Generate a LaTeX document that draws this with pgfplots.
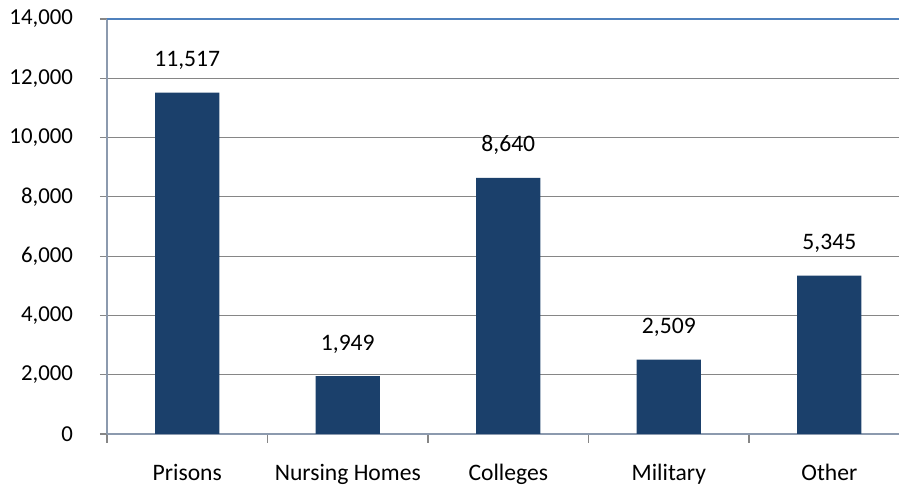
\documentclass[border=0pt]{standalone}
\usepackage{fontspec}
\setmainfont{Carlito}
\usepackage{pgfplots}
\pgfplotsset{compat=1.18}

\definecolor{barblue}{RGB}{27,64,107}
\definecolor{axisgray}{RGB}{140,154,174}
\definecolor{gridgray}{RGB}{134,134,134}
\definecolor{topblue}{RGB}{79,129,189}

\begin{document}
\begin{tikzpicture}
	\begin{axis}[
		at={(0,0)}, anchor=south west,
		scale only axis,
		width=396pt, height=207.5pt,
		ybar, bar width=0.4,
		xmin=-0.5, xmax=4.434,
		ymin=0, ymax=14000,
		ytick={0,2000,...,14000},
		scaled y ticks=false,
		xtick={0,...,4},
		xticklabels={Prisons,Nursing Homes,Colleges,Military,Other},
		minor xtick={-0.5,0.5,1.5,2.5,3.5},
		axis lines*=left,
		axis line style={draw=axisgray, line width=0.9pt},
		ymajorgrids,
		major grid style={draw=gridgray, line width=0.5pt},
		tick align=outside,
		major tick length=3.5pt,
		minor tick length=4.5pt,
		major x tick style={draw=none},
		minor x tick style={draw=gridgray, line width=0.8pt},
		major y tick style={draw=gridgray, line width=0.6pt},
		/pgf/number format/1000 sep={,},
		/pgf/number format/assume math mode=true,
		yticklabel style={font=\fontsize{11.4}{13}\selectfont, xshift=-10pt},
		xticklabel style={font=\fontsize{11.8}{13}\selectfont, yshift=-8pt},
		nodes near coords,
		nodes near coords style={font=\fontsize{11.8}{13}\selectfont, yshift=8pt},
	]
		\addplot[fill=barblue, draw=none] coordinates {(0,11517) (1,1949) (2,8640) (3,2509) (4,5345)};
		\draw[topblue, line width=0.9pt] (axis cs:-0.5,14000) -- (axis cs:4.434,14000);
	\end{axis}
	\pgfresetboundingbox
	\path[use as bounding box] (-53.5pt,-25.5pt) rectangle (396pt,217pt);
\end{tikzpicture}
\end{document}
